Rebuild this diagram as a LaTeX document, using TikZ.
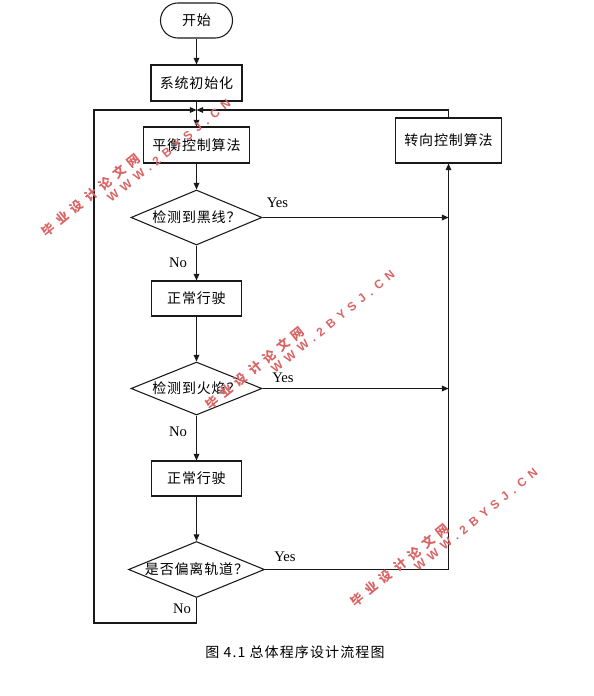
\documentclass[tikz,border=0pt]{standalone}
\usepackage{fontspec}
\setmainfont{Liberation Serif}
\newfontfamily\cjk{Noto Sans CJK SC}[LetterSpace=6]
\newfontfamily\cjkcap{Noto Sans CJK SC}[LetterSpace=8]
\newfontfamily\cjkwm{Noto Sans CJK SC}[LetterSpace=45]
\newfontfamily\latwm{Liberation Sans}[LetterSpace=45]
\usetikzlibrary{shapes.geometric,arrows.meta}
\definecolor{wmred}{RGB}{218,100,100}
\definecolor{ln}{RGB}{25,25,25}
\begin{document}
\begin{tikzpicture}[x=0.75pt,y=-0.75pt,
  base/.style={draw=ln, line width=0.8pt, inner sep=0pt, font=\cjk\fontsize{10.5}{12}\selectfont},
  box/.style={base, rectangle},
  term/.style={base, rectangle, rounded corners=13pt},
  dia/.style={base, diamond, aspect=2.4},
  arr/.style={draw=ln, line width=0.8pt, -{Triangle[length=5pt,width=4.3pt]}},
  lbl/.style={font=\fontsize{11}{13}\selectfont, inner sep=0pt},
  captxt/.style={font=\cjkcap\fontsize{10.5}{12}\selectfont, inner sep=0pt},
  wmcn/.style={text=wmred, rotate=39, inner sep=0pt, font=\cjkwm\bfseries\fontsize{9.5}{11}\selectfont},
  wmen/.style={text=wmred, rotate=39, inner sep=0pt, font=\latwm\bfseries\fontsize{9}{11}\selectfont}
]
\useasboundingbox (0,0) rectangle (593,696);

% nodes
\node[term, minimum width=54pt, minimum height=26.25pt] (start) at (196.5,20.5) {开始};
\node[box, minimum width=68.25pt, minimum height=27pt] (init) at (196.5,83) {系统初始化};
\node[box, minimum width=79.5pt, minimum height=27pt] (bal) at (196.5,145) {平衡控制算法};
\node[box, minimum width=79.5pt, minimum height=33.75pt] (turn) at (448.5,140.5) {转向控制算法};
\node[dia, minimum width=98.25pt, minimum height=41.25pt] (d1) at (196.5,217.5) {检测到黑线？};
\node[box, minimum width=67.5pt, minimum height=26.25pt] (n1) at (196.5,298.5) {正常行驶};
\node[dia, minimum width=98.25pt, minimum height=39.75pt] (d2) at (196.5,388.5) {检测到火焰？};
\node[box, minimum width=67.5pt, minimum height=26.25pt] (n2) at (196.5,478.5) {正常行驶};
\node[dia, minimum width=102pt, minimum height=39.75pt] (d3) at (196.5,569.5) {是否偏离轨道？};

\coordinate (m) at (196.5,110);
\coordinate (bl) at (94,623);

% connectors
\draw[arr] (start) -- (init);
\draw[arr] (init) -- (bal);
\draw[arr] (d3.south) |- (bl) |- (m);
\draw[arr] (turn.north) |- (m);
\draw[arr] (bal) -- (d1);
\draw[arr] (d1) -- (n1);
\draw[arr] (d1.east) -- (d1.east -| turn.south);
\draw[arr] (n1) -- (d2);
\draw[arr] (d2.east) -- (d2.east -| turn.south);
\draw[arr] (d2) -- (n2);
\draw[arr] (n2) -- (d3);
\draw[arr] (d3.east) -| (turn.south);

% labels
\node[lbl] (y1) at (277.5,203) {Yes};
\node[lbl] (no1) at (178,263) {No};
\node[lbl] (y2) at (283,378) {Yes};
\node[lbl] (no2) at (178,432) {No};
\node[lbl] (y3) at (285,557) {Yes};
\node[lbl] (no3) at (182,609) {No};

\node[captxt] (caption) at (295,652) {图 4.1 总体程序设计流程图};

% watermarks
\node[wmcn] (w1c) at (91,195) {毕业设计论文网};
\node[wmen] (w1e) at (169,151) {WWW.2BYSJ.CN};
\node[wmcn] (w2c) at (255,368) {毕业设计论文网};
\node[wmen] (w2e) at (333,322) {WWW.2BYSJ.CN};
\node[wmcn] (w3c) at (400,565) {毕业设计论文网};
\node[wmen] (w3e) at (476,520) {WWW.2BYSJ.CN};
\end{tikzpicture}
\end{document}
